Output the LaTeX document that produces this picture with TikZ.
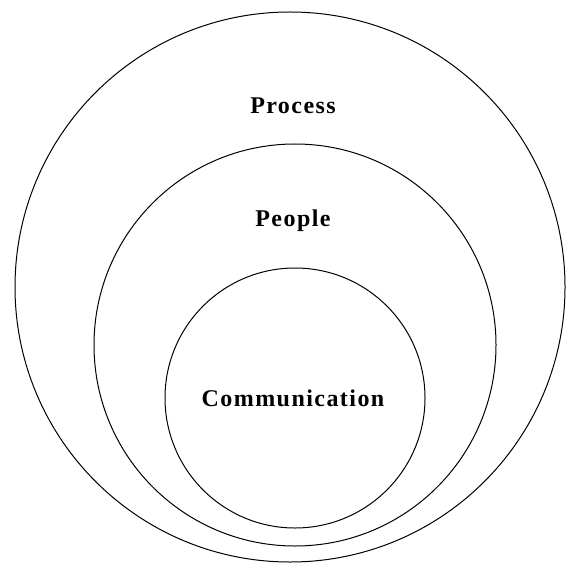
\documentclass[tikz,border=0pt]{standalone}
\usepackage{fontspec}
\setmainfont{Liberation Serif}
\newfontfamily\labelfont[LetterSpace = 6]{Liberation Serif}

\tikzset{
    label/.style = {font = \labelfont\bfseries\fontsize{24}{28}\selectfont, inner sep = 0pt}
}

\begin{document}
\begin{tikzpicture}[x = 1pt, y = -1pt]
    \useasboundingbox (0, 0) rectangle (566, 569);

    \draw[line width = 1pt] (290, 287) circle (275);
    \draw[line width = 1pt] (295, 345) circle (201);
    \draw[line width = 1pt] (295, 398) circle (130);

    \node[label] (process) at (293, 106) {Process};
    \node[label] (people) at (293, 221) {People};
    \node[label] (communication) at (293, 398) {Communication};

  \end{tikzpicture}
\end{document}
